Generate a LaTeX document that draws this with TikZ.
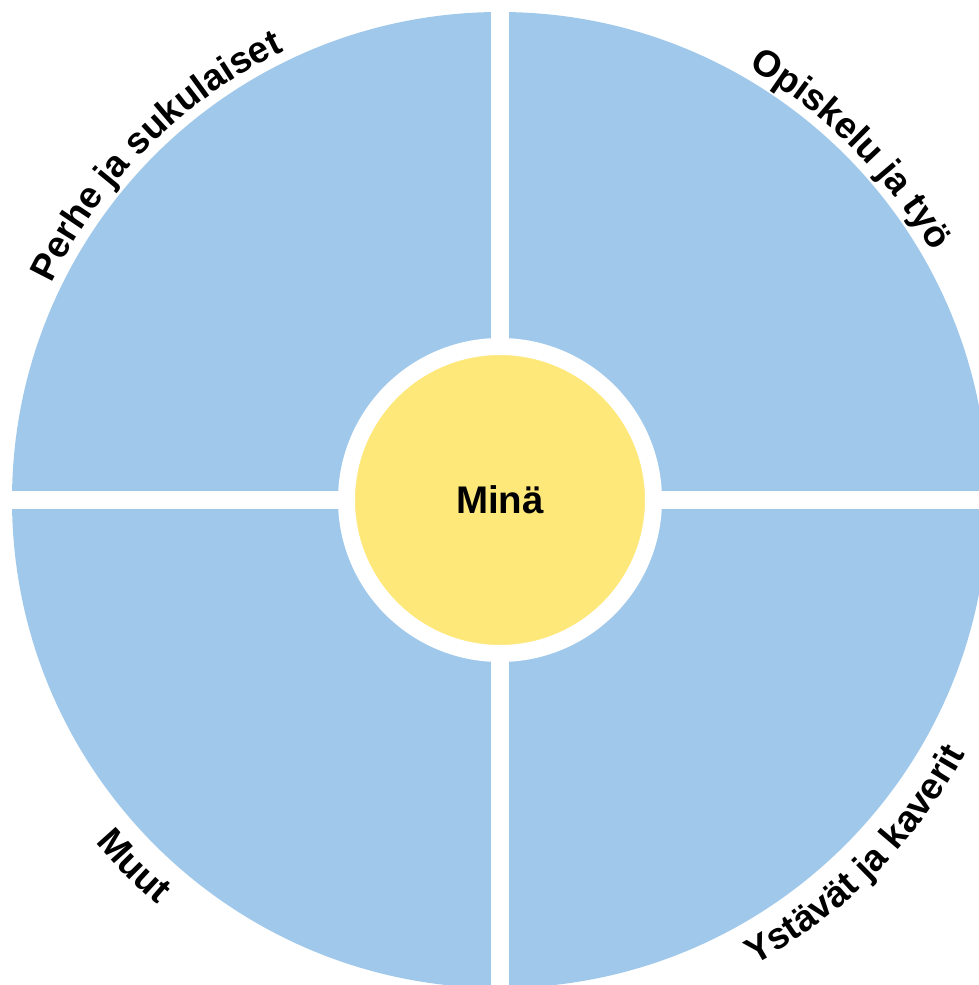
\documentclass[tikz,border=0pt]{standalone}
\usepackage{fontspec}
\setmainfont{Liberation Sans}
\usepackage{xcolor}
\usepackage{tikz}
\usetikzlibrary{decorations.text}

\definecolor{quadblue}{HTML}{A0C8EA}
\definecolor{meyellow}{HTML}{FEE87A}
\newcommand{\arcfont}{\fontsize{37}{44}\selectfont\bfseries}

\begin{document}
\begin{tikzpicture}[
    x=1pt, y=1pt,
    quad/.style={fill=quadblue},
    gap/.style={fill=white},
    me/.style={circle, fill=meyellow, draw=white, line width=17pt, minimum size=307pt, inner sep=0pt, font=\fontsize{38.5}{46}\selectfont\bfseries},
    outlabel/.style={decorate, decoration={text along path, text align=center, text={|\arcfont|#1}}},
]
    \useasboundingbox (-500,-485) rectangle (479,500);
    \clip (-500,-485) rectangle (479,500);

    % Quadrants
    \fill[quad] (0,0) circle (488);
    \fill[gap] (-8.5,-500) rectangle (8.5,500);
    \fill[gap] (-500,-8.5) rectangle (500,8.5);

    % Centre
    \node[me] (mina) at (0,0) {Minä};

    % Labels round the circle
    \path[outlabel={Perhe ja sukulaiset}] (180:498) arc[start angle=180, end angle=90, radius=498];
    \path[outlabel={Opiskelu ja työ}] (90:498) arc[start angle=90, end angle=0, radius=498];
    \path[outlabel={Muut}] (180:530) arc[start angle=180, end angle=270, radius=530];
    \path[outlabel={Ystävät ja kaverit}] (270:530) arc[start angle=270, end angle=360, radius=530];
\end{tikzpicture}
\end{document}
